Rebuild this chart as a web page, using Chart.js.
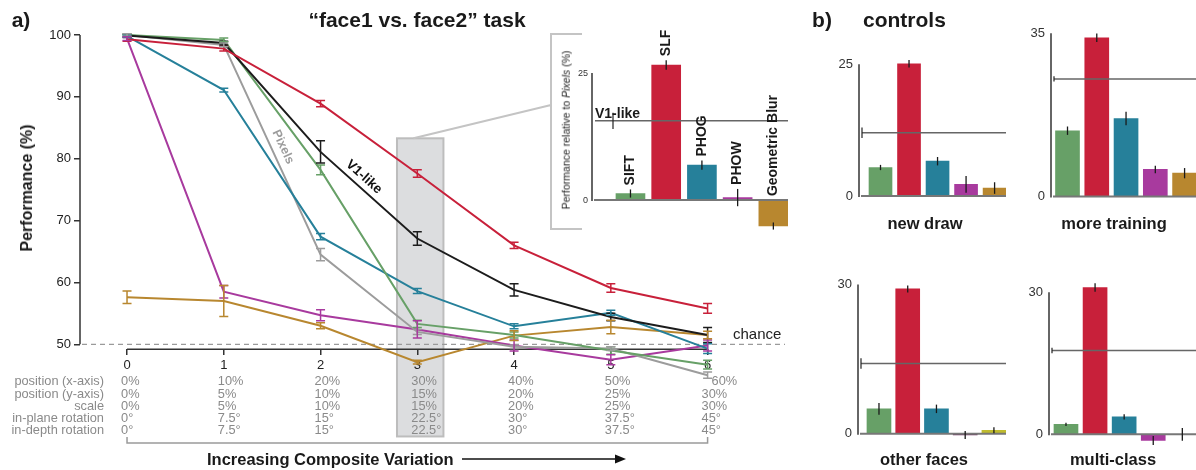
<!DOCTYPE html>
<html>
<head>
<meta charset="utf-8">
<script src="https://cdn.jsdelivr.net/npm/chart.js@4"></script>
<style>
  body { margin: 0; background: #fff; font-family: "Liberation Sans", Arial, sans-serif; }
  #wrap { position: relative; width: 1196px; height: 470px; overflow: hidden; }
  #wrap canvas { position: absolute; }
  .t { position: absolute; white-space: nowrap; line-height: 1; }
  .b { font-weight: bold; color: #1a1a1a; }
  .tab { font-size: 12.8px; color: #8a8a8a; }
</style>
</head>
<body>
<div id="wrap">
  <canvas id="main" width="800" height="470" style="left:0;top:0"></canvas>
  <canvas id="inset" width="260" height="220" style="left:540px;top:20px"></canvas>
  <canvas id="newDraw" width="195" height="175" style="left:815px;top:40px"></canvas>
  <canvas id="moreTraining" width="186" height="205" style="left:1010px;top:10px"></canvas>
  <canvas id="otherFaces" width="195" height="195" style="left:815px;top:260px"></canvas>
  <canvas id="multiClass" width="186" height="200" style="left:1010px;top:260px"></canvas>
</div>
<script>
// ---- data: main panel ("face1 vs. face2" task) ----
const steps = [0, 1, 2, 3, 4, 5, 6];
const yTicks = [50, 60, 70, 80, 90, 100];

const slf      = [99.3, 97.8, 88.9, 77.6, 66.0, 59.1, 55.8];
const slfErr   = [0.3, 0.4, 0.5, 0.6, 0.5, 0.7, 0.8];
const v1like   = [99.9, 98.7, 81.1, 67.1, 58.8, 54.4, 51.5];
const v1Err    = [0.2, 0.3, 1.8, 1.1, 1.0, 0.6, 1.2];
const sift     = [100, 99.2, 78.2, 53.3, 51.5, 49.0, 46.7];
const siftErr  = [0.2, 0.3, 0.8, 0.6, 0.5, 0.6, 0.7];
const phog     = [99.8, 91.1, 67.4, 58.6, 52.9, 55.1, 49.3];
const phogErr  = [0.2, 0.3, 0.5, 0.4, 0.4, 0.4, 0.8];
const pixels   = [100, 98.4, 64.5, 52.0, 49.6, 49.3, 45.0];
const pixErr   = [0.2, 0.3, 1.0, 0.4, 0.3, 0.3, 0.5];
const phow     = [99.4, 58.5, 54.7, 52.4, 49.8, 47.5, 49.8];
const phowErr  = [0.3, 1.0, 0.9, 1.4, 0.9, 0.8, 0.9];
const geoBlur  = [57.6, 57.0, 53.0, 47.1, 51.4, 52.8, 51.5];
const geoErr   = [1.0, 2.5, 0.5, 0.3, 0.8, 1.1, 0.6];

// variation table under the x axis
const rowNames = ["position (x-axis)", "position (y-axis)", "scale", "in-plane rotation", "in-depth rotation"];
const posX     = ["0%", "10%", "20%", "30%", "40%", "50%", "60%"];
const posY     = ["0%", "5%", "10%", "15%", "20%", "25%", "30%"];
const scaleVar = ["0%", "5%", "10%", "15%", "20%", "25%", "30%"];
const inPlane  = ["0°", "7.5°", "15°", "22.5°", "30°", "37.5°", "45°"];
const inDepth  = ["0°", "7.5°", "15°", "22.5°", "30°", "37.5°", "45°"];

// ---- data: inset (relative to Pixels at step 3) ----
const insetNames = ["SIFT", "SLF", "PHOG", "PHOW", "Geometric Blur"];
const insetVals  = [1.3, 26.6, 6.9, 0.5, -5.1];
const insetErr   = [0.8, 0.95, 0.9, 1.7, 0.7];
const insetV1 = 15.6, insetV1Err = 1.6;

// ---- data: controls ----
const newDrawVals = [5.4, 25.1, 6.6, 2.2, 1.5];
const newDrawErr  = [0.5, 0.7, 0.8, 1.6, 1.1];
const newDrawV1 = 12.0, newDrawV1Err = 1.0;

const moreTrainVals = [14.1, 34.0, 16.7, 5.8, 5.0];
const moreTrainErr  = [0.9, 0.9, 1.45, 0.8, 1.1];
const moreTrainV1 = 25.2, moreTrainV1Err = 0.55;

const otherFacesVals = [5.0, 29.1, 5.0, -0.25, 0.7];
const otherFacesErr  = [1.2, 0.7, 0.85, 0.8, 0.6];
const otherFacesV1 = 14.1, otherFacesV1Err = 1.05;

const multiClassVals = [2.1, 31.0, 3.7, -1.3, 0];
const multiClassErr  = [0.35, 0.9, 0.55, 0.95, 1.35];
const multiClassV1 = 17.7, multiClassV1Err = 0.6;

const C = {
  red: "#c8203a", black: "#1c1c1c", green: "#67a067", teal: "#26809a",
  gray: "#9c9c9c", magenta: "#a83a9e", gold: "#b8872f",
  purple: "#6e2b5c", olive: "#bfbb2e"
};
const FONT = '"Liberation Sans", Arial, sans-serif';
Chart.defaults.font.family = FONT;

const wrap = document.getElementById("wrap");
function addText(html, x, y, cls, css, tf) {
  const d = document.createElement("div");
  d.className = "t " + (cls || "");
  d.innerHTML = html;
  if (css) d.style.cssText = css;
  d.style.left = x + "px";
  d.style.top = y + "px";
  d.style.transform = tf || "translate(-50%,-50%)";
  wrap.appendChild(d);
}

// ---------- main line chart ----------
const series = [
  { label: "SLF", vals: slf, err: slfErr, color: C.red },
  { label: "V1-like", vals: v1like, err: v1Err, color: C.black },
  { label: "SIFT", vals: sift, err: siftErr, color: C.green },
  { label: "PHOG", vals: phog, err: phogErr, color: C.teal },
  { label: "Pixels", vals: pixels, err: pixErr, color: C.gray },
  { label: "PHOW", vals: phow, err: phowErr, color: C.magenta },
  { label: "Geometric Blur", vals: geoBlur, err: geoErr, color: C.gold }
];

const mainDecor = {
  id: "mainDecor",
  beforeDraw(chart) {
    const { ctx, scales: { x, y } } = chart;
    ctx.save();
    // highlighted step 3 column
    const x1 = x.getPixelForValue(2.79), x2 = x.getPixelForValue(3.27);
    const y1 = y.getPixelForValue(83.3), y2 = y.getPixelForValue(35.1);
    ctx.fillStyle = "#dcdddf";
    ctx.fillRect(x1, y1, x2 - x1, y2 - y1);
    ctx.strokeStyle = "#bdbdbd";
    ctx.lineWidth = 2;
    ctx.strokeRect(x1, y1, x2 - x1, y2 - y1);
    // connector to the inset and the inset bracket
    ctx.beginPath();
    ctx.moveTo(x.getPixelForValue(2.96), y1);
    ctx.lineTo(551, 105);
    ctx.moveTo(582, 34); ctx.lineTo(551, 34); ctx.lineTo(551, 229); ctx.lineTo(582, 229);
    ctx.strokeStyle = "#c4c4c4";
    ctx.stroke();
    ctx.restore();
  },
  beforeDatasetsDraw(chart) {
    const { ctx, chartArea, scales: { x, y } } = chart;
    ctx.save();
    // chance line
    ctx.setLineDash([5, 4]);
    ctx.strokeStyle = "#9a9a9a";
    ctx.lineWidth = 1.2;
    ctx.beginPath();
    ctx.moveTo(chartArea.left + 2, y.getPixelForValue(50));
    ctx.lineTo(chartArea.right, y.getPixelForValue(50));
    ctx.stroke();
    ctx.setLineDash([]);
    // axes
    ctx.strokeStyle = "#333";
    ctx.lineWidth = 1.5;
    ctx.beginPath();
    ctx.moveTo(chartArea.left, y.getPixelForValue(yTicks[0]));
    ctx.lineTo(chartArea.left, y.getPixelForValue(yTicks[yTicks.length - 1]));
    const ax = y.getPixelForValue(49.2);
    ctx.moveTo(x.getPixelForValue(steps[0]), ax);
    ctx.lineTo(x.getPixelForValue(steps[steps.length - 1]), ax);
    ctx.stroke();
    // bracket under the table
    ctx.strokeStyle = "#9a9a9a";
    ctx.beginPath();
    ctx.moveTo(x.getPixelForValue(steps[0]), 437);
    ctx.lineTo(x.getPixelForValue(steps[0]), 443);
    ctx.lineTo(x.getPixelForValue(steps[steps.length - 1]), 443);
    ctx.lineTo(x.getPixelForValue(steps[steps.length - 1]), 437);
    ctx.stroke();
    // arrow
    ctx.strokeStyle = "#111";
    ctx.fillStyle = "#111";
    ctx.beginPath();
    ctx.moveTo(462, 459); ctx.lineTo(618, 459);
    ctx.stroke();
    ctx.beginPath();
    ctx.moveTo(626, 459); ctx.lineTo(615, 454.5); ctx.lineTo(615, 463.5);
    ctx.closePath();
    ctx.fill();
    ctx.restore();
  },
  afterDatasetsDraw(chart) {
    const { ctx, scales: { x, y } } = chart;
    ctx.save();
    ctx.lineWidth = 1.5;
    chart.data.datasets.forEach(ds => {
      ctx.strokeStyle = ds.borderColor;
      ds.data.forEach((p, j) => {
        const e = ds.errors[j];
        const px = x.getPixelForValue(p.x);
        const t = y.getPixelForValue(p.y + e), b = y.getPixelForValue(p.y - e);
        ctx.beginPath();
        ctx.moveTo(px, t); ctx.lineTo(px, b);
        ctx.moveTo(px - 4.5, t); ctx.lineTo(px + 4.5, t);
        ctx.moveTo(px - 4.5, b); ctx.lineTo(px + 4.5, b);
        ctx.stroke();
      });
    });
    // line labels
    ctx.textAlign = "center";
    ctx.textBaseline = "middle";
    ctx.translate(283, 147);
    ctx.rotate(65 * Math.PI / 180);
    ctx.font = "bold 12.5px " + FONT;
    ctx.fillStyle = "#9c9c9c";
    ctx.fillText("Pixels", 0, 0);
    ctx.setTransform(1, 0, 0, 1, 0, 0);
    ctx.translate(364, 177);
    ctx.rotate(42 * Math.PI / 180);
    ctx.font = "bold 13.5px " + FONT;
    ctx.fillStyle = "#111";
    ctx.fillText("V1-like", 0, 0);
    ctx.restore();
  }
};

const mainChart = new Chart(document.getElementById("main"), {
  type: "line",
  data: {
    datasets: series.map(s => ({
      label: s.label,
      data: steps.map((st, i) => ({ x: st, y: s.vals[i] })),
      errors: s.err,
      borderColor: s.color,
      borderWidth: 2,
      pointRadius: 0,
      tension: 0,
      fill: false,
      clip: false
    }))
  },
  options: {
    responsive: false,
    animation: false,
    layout: { padding: { top: 35, right: 15, bottom: 88.6, left: 0 } },
    plugins: { legend: { display: false }, tooltip: { enabled: false } },
    scales: {
      x: {
        type: "linear",
        position: { y: 49.2 },
        min: -0.486,
        max: 6.8,
        afterBuildTicks: s => { s.ticks = steps.map(v => ({ value: v })); },
        grid: { drawOnChartArea: false, tickLength: 6, color: "#333", lineWidth: 1.5 },
        border: { display: false },
        ticks: { color: "#222", font: { size: 13 }, padding: 2 }
      },
      y: {
        min: 44,
        max: 100,
        afterFit: s => { s.width = 80; },
        afterBuildTicks: s => { s.ticks = yTicks.map(v => ({ value: v })); },
        grid: { drawOnChartArea: false, tickLength: 6, color: "#333", lineWidth: 1.5 },
        border: { display: false },
        ticks: { color: "#222", font: { size: 13 }, padding: 3 }
      }
    }
  },
  plugins: [mainDecor]
});

// ---------- bar panels (inset + controls) ----------
function barPanel(id, vals, errs, v1, v1Err, colors, lay, labels) {
  const decor = {
    id: "decor_" + id,
    afterDatasetsDraw(chart) {
      const { ctx, chartArea, scales: { x, y } } = chart;
      const L = chartArea.left, R = chartArea.right;
      ctx.save();
      // zero baseline
      ctx.strokeStyle = "#777";
      ctx.lineWidth = 2;
      ctx.beginPath();
      ctx.moveTo(L + 2, y.getPixelForValue(0));
      ctx.lineTo(R, y.getPixelForValue(0));
      ctx.stroke();
      // y axis
      ctx.strokeStyle = "#333";
      ctx.lineWidth = 1.5;
      ctx.beginPath();
      ctx.moveTo(L, y.getPixelForValue(0) + 1);
      ctx.lineTo(L, y.getPixelForValue(lay.ticks[lay.ticks.length - 1]));
      ctx.stroke();
      // V1-like reference line
      const vy = y.getPixelForValue(v1);
      ctx.strokeStyle = "#666";
      ctx.lineWidth = 1.5;
      ctx.beginPath();
      ctx.moveTo(L + 3, vy); ctx.lineTo(R, vy);
      ctx.stroke();
      ctx.strokeStyle = "#222";
      ctx.lineWidth = 1.2;
      ctx.beginPath();
      ctx.moveTo(L + lay.v1ErrDx, y.getPixelForValue(v1 + v1Err));
      ctx.lineTo(L + lay.v1ErrDx, y.getPixelForValue(v1 - v1Err));
      ctx.stroke();
      // error bars
      ctx.strokeStyle = "#1a1a1a";
      ctx.lineWidth = 1.3;
      vals.forEach((v, i) => {
        const px = x.getPixelForValue(i);
        ctx.beginPath();
        ctx.moveTo(px, y.getPixelForValue(v + errs[i]));
        ctx.lineTo(px, y.getPixelForValue(v - errs[i]));
        ctx.stroke();
      });
      if (labels) {
        ctx.fillStyle = "#1a1a1a";
        ctx.font = "bold 14px " + FONT;
        ctx.textBaseline = "alphabetic";
        ctx.textAlign = "left";
        ctx.fillText("V1-like", L + 3, vy - 3);
        ctx.textBaseline = "middle";
        vals.forEach((v, i) => {
          const px = x.getPixelForValue(i);
          const top = y.getPixelForValue(Math.max(v, 0) + (v > 0 ? errs[i] : 0)) - 4;
          ctx.save();
          ctx.translate(px, top);
          ctx.rotate(-Math.PI / 2);
          ctx.fillText(labels[i], 0, 0);
          ctx.restore();
        });
      }
      ctx.restore();
    }
  };
  return new Chart(document.getElementById(id), {
    type: "bar",
    data: {
      datasets: [{
        data: vals.map((v, i) => ({ x: i, y: v })),
        backgroundColor: colors,
        barThickness: lay.barW
      }]
    },
    options: {
      responsive: false,
      animation: false,
      layout: { padding: { top: lay.padTop, right: lay.padRight, bottom: lay.padBottom, left: 0 } },
      plugins: { legend: { display: false }, tooltip: { enabled: false } },
      scales: {
        x: { type: "linear", min: lay.xMin, max: lay.xMax, offset: false, display: false },
        y: {
          min: lay.yMin,
          max: lay.yMax,
          afterFit: s => { s.width = lay.axisLeft; },
          afterBuildTicks: s => { s.ticks = lay.ticks.map(v => ({ value: v })); },
          grid: { display: false, drawTicks: false },
          border: { display: false },
          ticks: { color: "#333", font: { size: lay.fontSize }, padding: lay.tickPad }
        }
      }
    },
    plugins: [decor]
  });
}

const fiveColors = [C.green, C.red, C.teal, C.magenta, C.gold];

barPanel("inset", insetVals, insetErr, insetV1, insetV1Err, fiveColors,
  { axisLeft: 52, padTop: 27.7, padBottom: 2.7, padRight: 12, xMin: -1.077, xMax: 4.41,
    yMin: -6, yMax: 30, ticks: [0, 25], barW: 29, fontSize: 9, tickPad: 4, v1ErrDx: 21 },
  insetNames);

barPanel("newDraw", newDrawVals, newDrawErr, newDrawV1, newDrawV1Err, fiveColors,
  { axisLeft: 44, padTop: 11.8, padBottom: 2.6, padRight: 4, xMin: -0.754, xMax: 4.40,
    yMin: -1, yMax: 27, ticks: [0, 25], barW: 23, fontSize: 13, tickPad: 6, v1ErrDx: 3 });

barPanel("moreTraining", moreTrainVals, moreTrainErr, moreTrainV1, moreTrainV1Err, fiveColors,
  { axisLeft: 41, padTop: 6.4, padBottom: 3.2, padRight: 0, xMin: -0.564, xMax: 4.39,
    yMin: -1, yMax: 37, ticks: [0, 35], barW: 24, fontSize: 13, tickPad: 6, v1ErrDx: 3 });

barPanel("otherFaces", otherFacesVals, otherFacesErr, otherFacesV1, otherFacesV1Err,
  [C.green, C.red, C.teal, C.purple, C.olive],
  { axisLeft: 43, padTop: 14.5, padBottom: 4.8, padRight: 4, xMin: -0.73, xMax: 4.42,
    yMin: -1.5, yMax: 32, ticks: [0, 30], barW: 24, fontSize: 13, tickPad: 6, v1ErrDx: 3 });

barPanel("multiClass", multiClassVals, multiClassErr, multiClassV1, multiClassV1Err, fiveColors,
  { axisLeft: 39, padTop: 22.8, padBottom: 6.3, padRight: 0, xMin: -0.584, xMax: 4.47,
    yMin: -2.5, yMax: 32, ticks: [0, 30], barW: 24, fontSize: 13, tickPad: 6, v1ErrDx: 3 });

// ---------- text ----------
addText("a)", 21, 19, "b", "font-size:21px");
addText("“face1 vs. face2” task", 417, 19, "b", "font-size:21px");
addText("b)", 822, 19, "b", "font-size:21px");
addText("controls", 863, 19, "b", "font-size:21px", "translate(0,-50%)");
addText("Performance (%)", 27, 188, "b", "font-size:16px", "translate(-50%,-50%) rotate(-90deg)");
addText("chance", 733, 333, "", "font-size:15px;color:#222", "translate(0,-50%)");
addText("Increasing Composite Variation", 207, 459, "b", "font-size:16.5px", "translate(0,-50%)");
addText("Performance relative to <i>Pixels</i> (%)", 566, 130, "", "font-size:10.5px;color:#222",
  "translate(-50%,-50%) rotate(-90deg)");
addText("new draw", 925, 223, "b", "font-size:16.5px");
addText("more training", 1114, 223, "b", "font-size:16.5px");
addText("other faces", 924, 459, "b", "font-size:16.5px");
addText("multi-class", 1113, 459, "b", "font-size:16.5px");

const rows = [posX, posY, scaleVar, inPlane, inDepth];
const rowY = [381, 393.5, 405.5, 417.5, 429.5];
rowNames.forEach((n, r) => {
  addText(n, 104, rowY[r], "tab", "", "translate(-100%,-50%)");
  rows[r].forEach((v, i) => {
    let px = mainChart.scales.x.getPixelForValue(steps[i]) - 6;
    if (r === 0 && i === steps.length - 1) px += 10;
    addText(v, px, rowY[r], "tab", "", "translate(0,-50%)");
  });
});
</script>
</body>
</html>
